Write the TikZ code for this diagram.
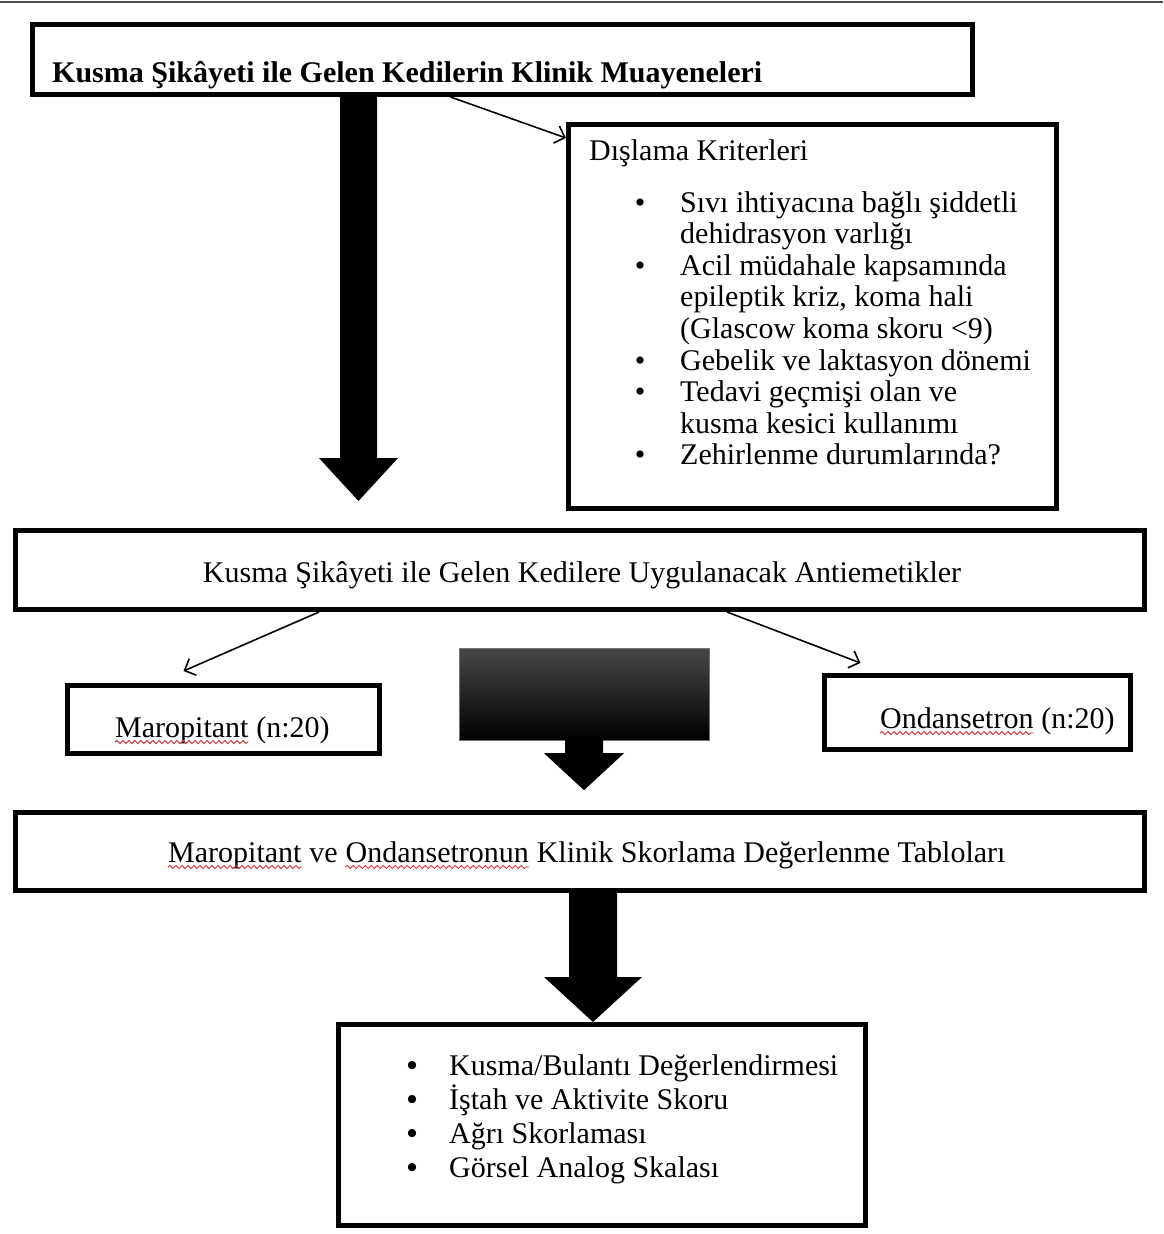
\documentclass[tikz,border=0pt]{standalone}
\usepackage{fontspec}
\setmainfont{Liberation Serif}
\usetikzlibrary{positioning, arrows.meta, calc, decorations.pathmorphing}
\definecolor{hatakirmizi}{RGB}{205, 60, 60}
\newcommand\metinboyu{\fontsize{30}{31.6}\selectfont}

\begin{document}
\begin{tikzpicture}[x=1pt, y=-1pt,
        cerceve/.style={draw, line width=5pt, inner sep=0pt},
        metin/.style={font=\metinboyu, inner sep=0pt},
        dalga/.style={hatakirmizi, line width=0.9pt, decorate,
            decoration={snake, amplitude=1.5pt, segment length=6pt}},
        ince ok/.style={line width=1.6pt, -{Straight Barb[length=9pt, width=18pt]}},
        kalin ok/.style n args={3}{to path={
            let \p1=(\tikztostart), \p2=(\tikztotarget) in
            (\x1-#1, \y1) -- (\x1+#1, \y1) -- (\x1+#1, \y2+#3) -- (\x1+#2, \y2+#3)
            -- (\x1, \y2) -- (\x1-#2, \y2+#3) -- (\x1-#1, \y2+#3) -- cycle}}
    ]
    \useasboundingbox (0,0) rectangle (1163,1234);
    \draw[black!70, line width=2pt] (0,2) -- (1163,2);

    % kutular
    \node[cerceve, minimum width=940, minimum height=70] (muayene) at (502.5, 59.5) {};
    \node[cerceve, minimum width=488, minimum height=384] (dislama) at (812.5, 316.5) {};
    \node[cerceve, minimum width=1129, minimum height=79] (antiemetik) at (580, 570) {};
    \node[cerceve, minimum width=312, minimum height=68] (maropitant) at (223.5, 719.5) {};
    \node[cerceve, minimum width=306, minimum height=74] (ondansetron) at (977.5, 712.5) {};
    \node[cerceve, minimum width=1129, minimum height=78] (skorlama) at (580, 851.5) {};
    \node[cerceve, minimum width=527, minimum height=201] (degerlendirme) at (602, 1125) {};

    % yazilar
    \node[metin, font=\metinboyu\bfseries, anchor=base west] (baslik) at (52, 82)
        {Kusma Şikâyeti ile Gelen Kedilerin Klinik Muayeneleri};
    \node[metin, anchor=base west] (dislamaBaslik) at (589, 160) {Dışlama Kriterleri};
    \foreach \yazi [count=\i] in {Sıvı ihtiyacına bağlı şiddetli, dehidrasyon varlığı,
            Acil müdahale kapsamında, {epileptik kriz, koma hali}, (Glascow koma skoru <9),
            Gebelik ve laktasyon dönemi, Tedavi geçmişi olan ve, kusma kesici kullanımı,
            Zehirlenme durumlarında?}
        \node[metin, anchor=base west] (kriter\i) at (680, 180.4+31.6*\i) {\yazi};
    \foreach \i in {1,3,6,7,9}
        \node[metin, anchor=base] (madde\i) at (640, 180.4+31.6*\i) {•};
    \node[metin, anchor=base] (antiemetikYazi) at (582, 582)
        {Kusma Şikâyeti ile Gelen Kedilere Uygulanacak Antiemetikler};

    \node[metin, anchor=base west] (maroAd) at (115, 737) {Maropitant};
    \node[metin, anchor=base west] (maroSayi) at ([xshift=7.5pt]maroAd.base east) {(n:20)};
    \node[metin, anchor=base west] (ondaAd) at (880, 728) {Ondansetron};
    \node[metin, anchor=base west] (ondaSayi) at ([xshift=7.5pt]ondaAd.base east) {(n:20)};

    \node[metin, anchor=base west] (skorMaro) at (168, 862) {Maropitant};
    \node[metin, anchor=base west] (skorVe) at ([xshift=7.5pt]skorMaro.base east) {ve};
    \node[metin, anchor=base west] (skorOnda) at ([xshift=7.5pt]skorVe.base east) {Ondansetronun};
    \node[metin, anchor=base west] (skorKalan) at ([xshift=7.5pt]skorOnda.base east)
        {Klinik Skorlama Değerlenme Tabloları};
    \foreach \kelime in {maroAd, ondaAd, skorMaro, skorOnda}
        \draw[dalga] ([yshift=-5pt]\kelime.base west) -- ([yshift=-5pt]\kelime.base east);

    \foreach \yazi [count=\i] in {Kusma/Bulantı Değerlendirmesi, İştah ve Aktivite Skoru,
            Ağrı Skorlaması, Görsel Analog Skalası} {
        \node[metin, anchor=base west] (olcut\i) at (449, 1041+34*\i) {\yazi};
        \node[metin, font=\metinboyu\bfseries, anchor=base] (nokta\i)
            at (412, 1041+34*\i) {•};
    }

    % oklar
    \coordinate (okA) at (358.5, 0);
    \coordinate (okB) at (593, 0);
    \fill (muayene.south -| okA) to[kalin ok={18.5pt}{39.5pt}{43pt}]
        ($(antiemetik.north -| okA)+(0,-27)$);
    \draw[ince ok] ([xshift=-52pt]muayene.south) -- ([yshift=-16pt]dislama.north west);
    \draw[ince ok] ([xshift=-261pt]antiemetik.south) -- ([xshift=-40pt, yshift=12pt]maropitant.north);
    \draw[ince ok] ([xshift=147pt]antiemetik.south) -- ([xshift=-117pt, yshift=10pt]ondansetron.north);
    \node[draw=black!55, top color=black!72, middle color=black!96, bottom color=black,
        minimum width=250, minimum height=92, inner sep=0pt] (ayirici) at (584, 694) {};
    \fill (ayirici.south) to[kalin ok={19pt}{40pt}{37pt}] ($(ayirici.south)+(0,50)$);
    \fill (skorlama.south -| okB) to[kalin ok={24pt}{49pt}{45pt}] (degerlendirme.north -| okB);
\end{tikzpicture}
\end{document}
